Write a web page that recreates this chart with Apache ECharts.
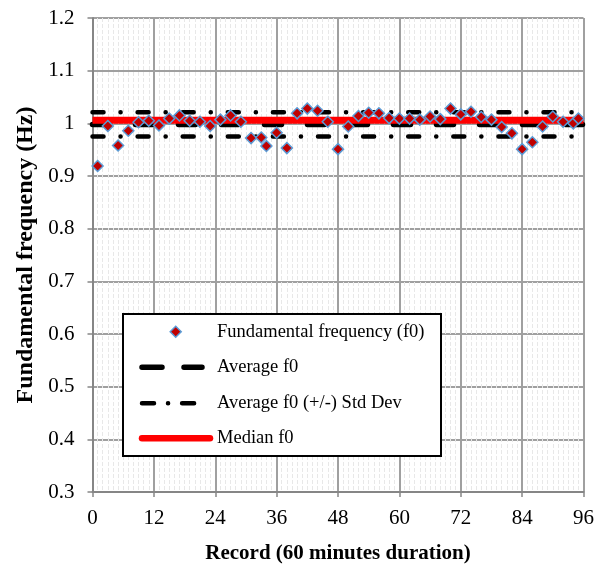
<!DOCTYPE html>
<html>
<head>
<meta charset="utf-8">
<script src="https://cdn.jsdelivr.net/npm/echarts@6/dist/echarts.min.js"></script>
<style>
  html, body {margin: 0; padding: 0; background: #fff;}
  #chart {width: 597px; height: 572px;}
</style>
</head>
<body>
<div id="chart"></div>
<script>
// record numbers (hours) and measured f0 values
let records = [1, 3, 5, 7, 9, 11, 13, 15, 17, 19, 21, 23, 25, 27, 29, 31, 33, 34, 36, 38,
  40, 42, 44, 46, 48, 50, 52, 54, 56, 58, 60, 62, 64, 66, 68, 70, 72, 74, 76, 78,
  80, 82, 84, 86, 88, 90, 92, 94, 95];
let f0 = [0.919, 0.995, 0.958, 0.986, 1.002, 1.005, 0.996, 1.009, 1.015, 1.005, 1.003, 0.995,
  1.007, 1.015, 1.003, 0.972, 0.973, 0.957, 0.982, 0.953, 1.019, 1.028, 1.024, 1.003,
  0.951, 0.994, 1.014, 1.020, 1.019, 1.010, 1.009, 1.009, 1.007, 1.013, 1.008, 1.028,
  1.017, 1.022, 1.012, 1.007, 0.993, 0.981, 0.951, 0.964, 0.994, 1.013, 1.003, 1.000, 1.009];

let avgF0 = 0.998;
let stdF0 = 0.023;
let medianF0 = 1.006;
let xRange = [0, 96];

let seriesNames = ['Fundamental frequency (f0)', 'Average f0', 'Average f0 (+/-) Std Dev', 'Median f0'];

let font = 'Liberation Serif';

function hLine(v) {
  return [[xRange[0], v], [xRange[1], v]];
}

let points = records.map(function (r, i) {
  return [r, f0[i]];
});

let myChart = echarts.init(document.getElementById('chart'));

// legend drawn by hand so the line patterns match the chart
let legendFont = '18.5px "' + font + '"';
let legendItems = [
  {type: 'rect', shape: {x: 0, y: 0, width: 318, height: 142},
    style: {fill: '#fff', stroke: '#000', lineWidth: 2}},
  {type: 'polygon', shape: {points: [[52.7, 12.2], [58.2, 17.7], [52.7, 23.2], [47.2, 17.7]]},
    style: {fill: '#c00000', stroke: '#5b9bd5', lineWidth: 1.5}},
  {type: 'line', shape: {x1: 19, y1: 53.3, x2: 79, y2: 53.3},
    style: {stroke: '#000', lineWidth: 5.5, lineCap: 'round', lineDash: [20, 22]}},
  {type: 'line', shape: {x1: 19, y1: 89.3, x2: 79, y2: 89.3},
    style: {stroke: '#000', lineWidth: 4.5, lineCap: 'round', lineDash: [12, 14, 0.1, 14]}},
  {type: 'line', shape: {x1: 19, y1: 124.3, x2: 87, y2: 124.3},
    style: {stroke: '#ff0000', lineWidth: 6.5, lineCap: 'round'}}
];
let textRows = [17.7, 53.3, 89.3, 124.3];
textRows.forEach(function (ty, i) {
  legendItems.push({type: 'text', x: 94, y: ty,
    style: {text: seriesNames[i], font: legendFont, fill: '#000', verticalAlign: 'middle'}});
});
legendItems.forEach(function (el, i) {
  el.z = 100;
  el.z2 = i;
});

let option = {
  animation: false,
  backgroundColor: '#fff',
  textStyle: {fontFamily: font},
  grid: {left: 92.5, right: 12.5, top: 18, bottom: 80},
  xAxis: {
    type: 'value',
    min: xRange[0],
    max: xRange[1],
    interval: 12,
    name: 'Record (60 minutes duration)',
    nameLocation: 'middle',
    nameGap: 51,
    nameTextStyle: {fontFamily: font, fontSize: 21, fontWeight: 'bold', color: '#000'},
    axisLine: {show: true, onZero: false, lineStyle: {color: '#868686', width: 2}},
    axisTick: {show: true, inside: false, length: 5, lineStyle: {color: '#868686', width: 1.5}},
    axisLabel: {fontFamily: font, fontSize: 21, color: '#000', margin: 16},
    splitLine: {show: true, lineStyle: {color: '#a0a0a0', width: 2}},
    minorTick: {show: false, splitNumber: 12},
    minorSplitLine: {show: true, lineStyle: {color: '#e8e8e8', width: 1, type: [4, 2]}}
  },
  yAxis: {
    type: 'value',
    min: 0.3,
    max: 1.2,
    interval: 0.1,
    name: 'Fundamental frequency (Hz)',
    nameLocation: 'middle',
    nameGap: 54,
    nameTextStyle: {fontFamily: font, fontSize: 24, fontWeight: 'bold', color: '#000'},
    axisLine: {show: true, lineStyle: {color: '#868686', width: 2}},
    axisTick: {show: true, inside: false, length: 5, lineStyle: {color: '#868686', width: 1.5}},
    axisLabel: {
      fontFamily: font, fontSize: 21, color: '#000', margin: 18,
      formatter: function (v) { return String(parseFloat(v.toFixed(1))); }
    },
    splitLine: {show: true, lineStyle: {color: '#a0a0a0', width: 2}}
  },
  graphic: [{type: 'group', x: 123, y: 314, z: 100, children: legendItems}],
  series: [
    {
      name: seriesNames[2], type: 'line', data: hLine(avgF0 + stdF0), symbol: 'none', z: 2,
      lineStyle: {color: '#000', width: 4.5, cap: 'round', type: [11, 17, 0.1, 17]}
    },
    {
      name: seriesNames[2] + ' low', type: 'line', data: hLine(avgF0 - stdF0), symbol: 'none', z: 2,
      lineStyle: {color: '#000', width: 4.5, cap: 'round', type: [11, 17, 0.1, 17]}
    },
    {
      name: seriesNames[1], type: 'line', data: hLine(avgF0), symbol: 'none', z: 3,
      lineStyle: {color: '#000', width: 5.5, cap: 'round', type: [17, 26]}
    },
    {
      name: seriesNames[3], type: 'line', data: hLine(medianF0), symbol: 'none', z: 4,
      lineStyle: {color: '#ff0000', width: 7}
    },
    {
      name: seriesNames[0], type: 'scatter', data: points, z: 5,
      symbol: 'diamond', symbolSize: 11,
      itemStyle: {color: '#c00000', borderColor: '#5b9bd5', borderWidth: 1.5, opacity: 1}
    }
  ]
};

myChart.setOption(option);
</script>
</body>
</html>
